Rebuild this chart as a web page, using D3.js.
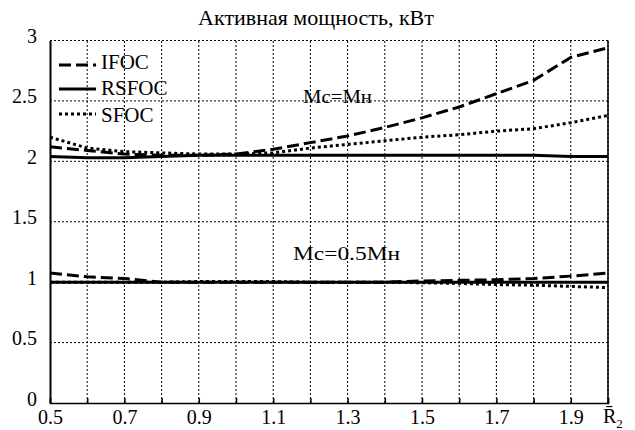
<!DOCTYPE html>
<html lang="ru">
<head>
<meta charset="UTF-8">
<title>Активная мощность</title>
<script src="https://d3js.org/d3.v7.min.js"></script>
<style>
    body { margin: 0; background: #fff; }
    svg text { font-family: "Liberation Serif", serif; fill: #000; }
    .grid line { stroke: #000; stroke-width: 1; stroke-dasharray: 2,2; }
</style>
</head>
<body>
<svg id="canvas" width="635" height="430"></svg>
<script>
    // abscissa: relative rotor resistance R2
    let r2 = [0.5, 0.6, 0.7, 0.8, 0.9, 1.0, 1.1, 1.2, 1.3, 1.4, 1.5, 1.6, 1.7, 1.8, 1.9, 2.0];

    // Mc = Mн
    let ifocFull  = [2.12, 2.09, 2.06, 2.05, 2.05, 2.06, 2.10, 2.155, 2.21, 2.28, 2.36, 2.45, 2.56, 2.67, 2.86, 2.94];
    let rsfocFull = [2.04, 2.03, 2.03, 2.04, 2.05, 2.05, 2.05, 2.05, 2.05, 2.05, 2.05, 2.05, 2.05, 2.05, 2.04, 2.04];
    let sfocFull  = [2.20, 2.11, 2.08, 2.07, 2.06, 2.06, 2.07, 2.11, 2.14, 2.17, 2.20, 2.22, 2.25, 2.27, 2.32, 2.38];

    // Mc = 0.5Mн
    let ifocHalf  = [1.075, 1.045, 1.03, 1.0, 1.0, 1.0, 1.0, 1.0, 1.0, 1.0, 1.01, 1.015, 1.02, 1.03, 1.05, 1.075];
    let rsfocHalf = [1.0, 1.0, 1.0, 1.0, 1.0, 1.0, 1.0, 1.0, 1.0, 1.0, 1.0, 1.0, 1.0, 1.0, 1.0, 1.0];
    let sfocHalf  = [1.0, 1.0, 1.0, 1.0, 1.005, 1.005, 1.005, 1.0, 1.0, 1.0, 0.995, 0.99, 0.98, 0.975, 0.965, 0.955];

    let xTicks = [0.5, 0.6, 0.7, 0.8, 0.9, 1.0, 1.1, 1.2, 1.3, 1.4, 1.5, 1.6, 1.7, 1.8, 1.9, 2.0];
    let xLabels = ["0.5", "", "0.7", "", "0.9", "", "1.1", "", "1.3", "", "1.5", "", "1.7", "", "1.9", ""];
    let yTicks = [0, 0.5, 1, 1.5, 2, 2.5, 3];
    let yLabels = ["0", "0.5", "1", "1.5", "2", "2.5", "3"];

    let legendNames = ["IFOC", "RSFOC", "SFOC"];
    let styles = {
        IFOC:  {dash: "12,5"},
        RSFOC: {dash: null},
        SFOC:  {dash: "3,3"}
    };

    const serif = '"Liberation Serif", serif';
    let svg = d3.select('svg');
    let x = d3.scaleLinear().domain([0.5, 2.0]).range([50, 608]);
    let y = d3.scaleLinear().domain([0, 3]).range([403, 40.5]);

    // grid
    let grid = svg.append('g').attr('class', 'grid');
    grid.selectAll('line.v').data(xTicks.slice(1)).enter().append('line')
        .attr('x1', d => x(d)).attr('x2', d => x(d))
        .attr('y1', y(0)).attr('y2', y(3));
    grid.selectAll('line.h').data(yTicks.slice(1)).enter().append('line')
        .attr('x1', x(0.5)).attr('x2', x(2.0))
        .attr('y1', d => y(d)).attr('y2', d => y(d));

    // bottom axis
    let xAxis = d3.axisBottom(x).tickValues(xTicks).tickSize(-5).tickPadding(7)
        .tickFormat((d, i) => xLabels[i]);
    let gx = svg.append('g').attr('transform', `translate(0,${y(0)})`).call(xAxis)
        .attr('font-family', serif);
    gx.select('.domain').attr('stroke', '#000').attr('stroke-width', 1.5);
    gx.selectAll('.tick line').attr('stroke', '#000').attr('stroke-width', 1.5);
    gx.selectAll('.tick text').style('font-family', serif).attr('font-size', 20);

    // R2 label at the end of the axis
    let rLab = svg.append('text').attr('x', x(2.0) - 5).attr('y', 423)
        .style('font-family', serif).attr('font-size', 20);
    rLab.append('tspan').text('R\u0304');
    rLab.append('tspan').attr('font-size', 13).attr('dy', 5).text('2');

    // left axis
    let yAxis = d3.axisLeft(y).tickValues(yTicks).tickSize(0).tickPadding(13)
        .tickFormat((d, i) => yLabels[i]);
    let gy = svg.append('g').attr('transform', `translate(${x(0.5)},0)`).call(yAxis)
        .attr('font-family', serif);
    gy.select('.domain').attr('stroke', '#000').attr('stroke-width', 2);
    gy.selectAll('.tick text').style('font-family', serif).attr('font-size', 20).attr('dy', '0.1em');

    // right border
    svg.append('line').attr('x1', x(2.0)).attr('x2', x(2.0)).attr('y1', y(0)).attr('y2', y(3))
        .attr('stroke', '#000').attr('stroke-width', 1.5);

    // title
    svg.append('text').attr('x', 316).attr('y', 25).attr('text-anchor', 'middle')
        .style('font-family', serif).attr('font-size', 22).text('Активная мощность, кВт');

    // curves
    let line = d3.line().x(d => x(d[0])).y(d => y(d[1]));
    let series = [
        {name: "SFOC", v: sfocFull}, {name: "SFOC", v: sfocHalf},
        {name: "RSFOC", v: rsfocFull}, {name: "RSFOC", v: rsfocHalf},
        {name: "IFOC", v: ifocFull}, {name: "IFOC", v: ifocHalf}
    ];
    svg.selectAll('path.curve').data(series).enter().append('path')
        .attr('class', 'curve')
        .attr('d', d => line(d3.zip(r2, d.v)))
        .attr('fill', 'none').attr('stroke', '#000').attr('stroke-width', 3)
        .attr('stroke-dasharray', d => styles[d.name].dash);

    // annotations
    svg.append('text').attr('x', 303).attr('y', 103).attr('font-size', 18)
        .style('font-family', serif)
        .attr('textLength', 69).attr('lengthAdjust', 'spacingAndGlyphs').text('Mc=Mн');
    svg.append('text').attr('x', 293).attr('y', 260).attr('font-size', 18)
        .style('font-family', serif)
        .attr('textLength', 107).attr('lengthAdjust', 'spacingAndGlyphs').text('Mc=0.5Mн');

    // legend
    let leg = svg.append('g');
    let lineY = [65, 89, 114];
    let textY = [69, 95, 122];
    legendNames.forEach((n, i) => {
        leg.append('line').attr('x1', 59).attr('x2', 96).attr('y1', lineY[i]).attr('y2', lineY[i])
            .attr('stroke', '#000').attr('stroke-width', 3).attr('stroke-dasharray', styles[n].dash);
        leg.append('text').attr('x', 101).attr('y', textY[i]).style('font-family', serif)
            .attr('font-size', 21).text(n);
    });
</script>
</body>
</html>
